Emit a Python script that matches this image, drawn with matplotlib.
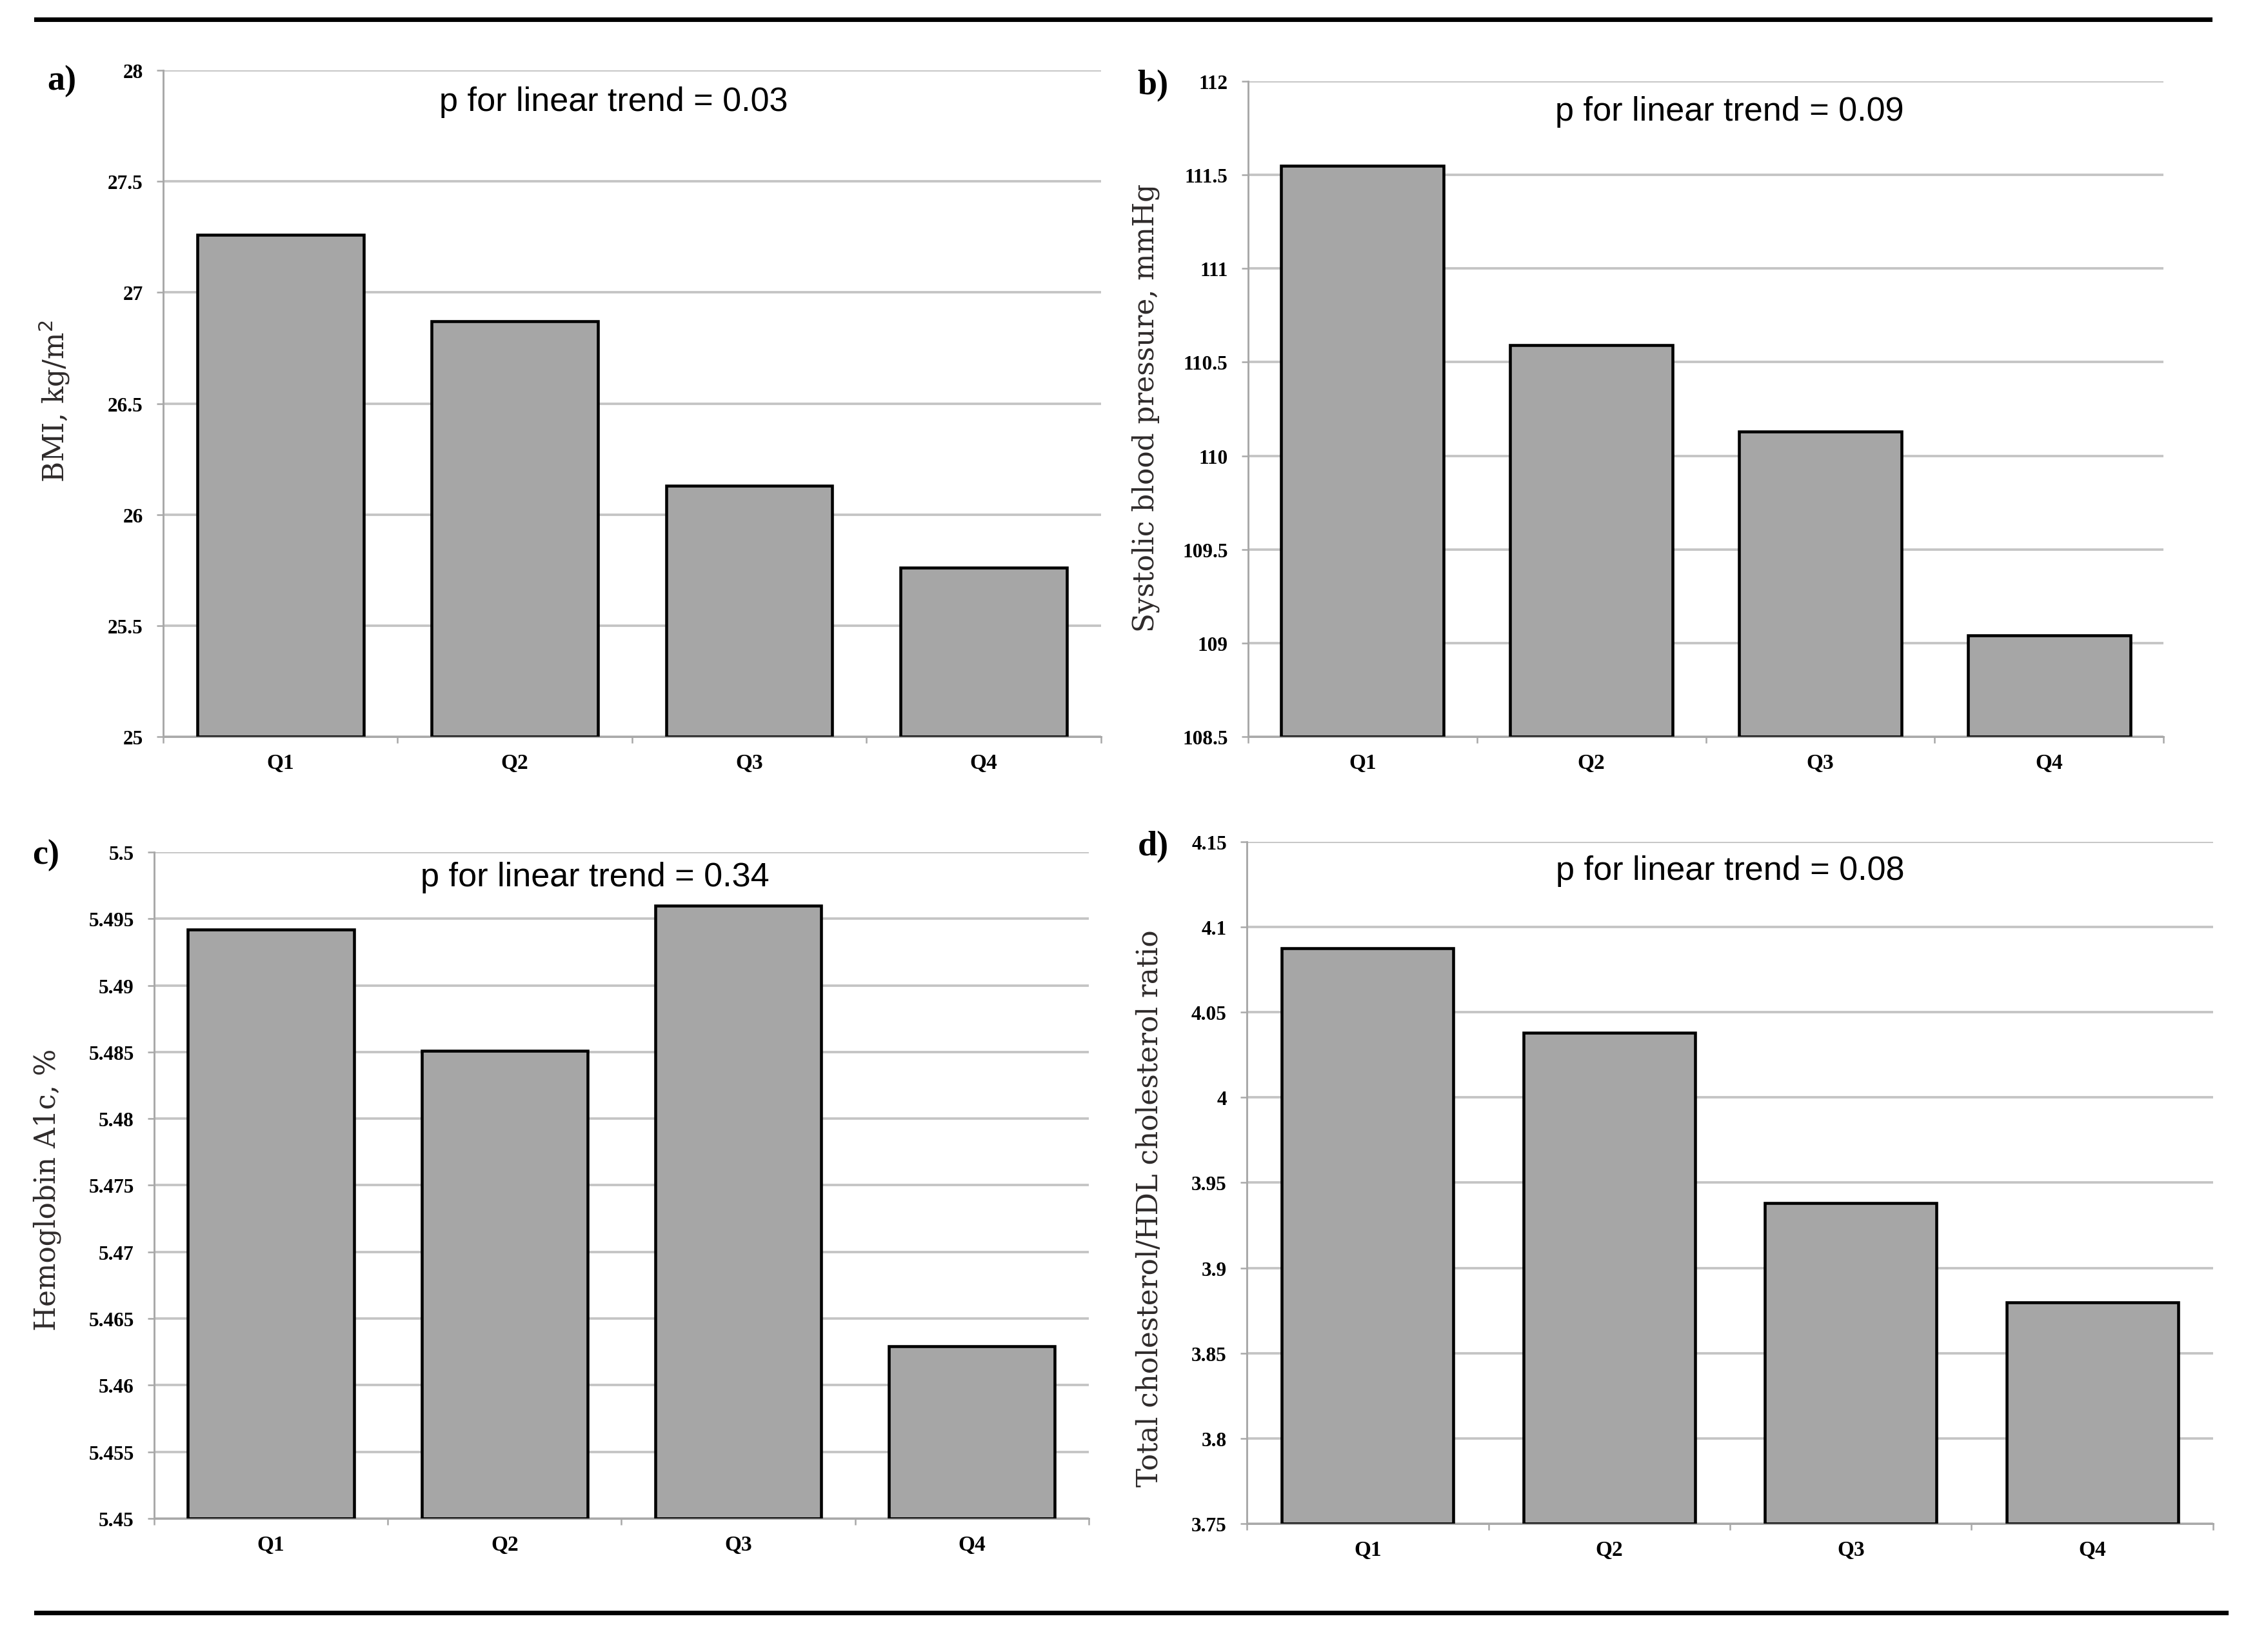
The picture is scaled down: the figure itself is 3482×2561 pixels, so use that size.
import matplotlib
matplotlib.use("Agg")
import matplotlib.pyplot as plt
from matplotlib.lines import Line2D
import numpy as np

quartiles = ["Q1", "Q2", "Q3", "Q4"]

bmi = [27.26, 26.87, 26.13, 25.76]
sbp = [111.55, 110.59, 110.13, 109.04]
hba1c = [5.4942, 5.4851, 5.4960, 5.4629]
chol_ratio = [4.0874, 4.0380, 3.9381, 3.8799]

p_values = ["0.03", "0.09", "0.34", "0.08"]
panel_letters = ["a)", "b)", "c)", "d)"]
y_labels = ["BMI, kg/m$^2$", "Systolic blood pressure, mmHg",
            "Hemoglobin A1c, %", "Total cholesterol/HDL cholesterol ratio"]

bmi_ticks = [25, 25.5, 26, 26.5, 27, 27.5, 28]
sbp_ticks = [108.5, 109, 109.5, 110, 110.5, 111, 111.5, 112]
hba1c_ticks = [5.45, 5.455, 5.46, 5.465, 5.47, 5.475, 5.48, 5.485, 5.49, 5.495, 5.5]
chol_ticks = [3.75, 3.8, 3.85, 3.9, 3.95, 4, 4.05, 4.1, 4.15]

panels = [
    (bmi, bmi_ticks, [0.0727, 0.5539, 0.4174, 0.4031], (0.48, 0.953), (0.0274, 0.9506), (0.0242, 0.757)),
    (sbp, sbp_ticks, [0.5557, 0.5539, 0.4076, 0.3965], (0.526, 0.954), (0.5134, 0.948), (0.510, 0.753)),
    (hba1c, hba1c_ticks, [0.0686, 0.0808, 0.4161, 0.4032], (0.472, 0.963), (0.0204, 0.4822), (0.021, 0.280)),
    (chol_ratio, chol_ticks, [0.5552, 0.0776, 0.4301, 0.4128], (0.50, 0.958), (0.5134, 0.4874), (0.512, 0.269)),
]

fig = plt.figure(figsize=(3482 / 300, 2562 / 300), dpi=300)

x = np.arange(len(quartiles))
for i, (vals, ticks, pos, ptxt, letter_pos, ylab_pos) in enumerate(panels):
    ax = fig.add_axes(pos)
    ax.set_axisbelow(True)
    ax.bar(x, np.array(vals) - ticks[0], bottom=ticks[0], width=0.71,
           color="#a6a6a6", edgecolor="black", linewidth=1.1, zorder=3)
    ax.set_xlim(-0.5, 3.5)
    ax.set_ylim(ticks[0], ticks[-1])
    ax.set_yticks(ticks)
    ax.set_yticklabels([f"{t:g}" for t in ticks], fontfamily="Liberation Serif",
                       fontweight="bold", fontsize=7.5)
    ax.set_xticks(x)
    ax.set_xticklabels(quartiles, fontfamily="Liberation Serif",
                       fontweight="bold", fontsize=8)
    ax.set_xticks(np.arange(-0.5, 4.0, 1.0), minor=True)
    ax.tick_params(axis="x", which="major", length=0, pad=6)
    ax.tick_params(axis="x", which="minor", length=2.5, color="#a8a8a8", width=0.6)
    ax.tick_params(axis="y", length=2.5, color="#a8a8a8", width=0.6, pad=5)
    ax.grid(axis="y", color="#c4c4c4", linewidth=0.9)
    for side in ["top", "right"]:
        ax.spines[side].set_visible(False)
    for side in ["left", "bottom"]:
        ax.spines[side].set_color("#a8a8a8")
        ax.spines[side].set_linewidth(0.7)

    ax.text(ptxt[0], ptxt[1], "p for linear trend = " + p_values[i],
            transform=ax.transAxes, ha="center", va="center", fontsize=12.5,
            fontfamily="Liberation Sans")

    fig.text(letter_pos[0], letter_pos[1], panel_letters[i], ha="center", va="center",
             fontsize=13, fontweight="bold", fontfamily="Liberation Serif")
    fig.text(ylab_pos[0], ylab_pos[1], y_labels[i], rotation=90, ha="center", va="center",
             fontsize=10.5, fontfamily="DejaVu Serif", color="#2e2a2a")

# horizontal rules above and below the figure
fig.add_artist(Line2D([0.016, 0.984], [0.988, 0.988], color="black", linewidth=1.7,
                      transform=fig.transFigure))
fig.add_artist(Line2D([0.016, 0.991], [0.024, 0.024], color="black", linewidth=1.7,
                      transform=fig.transFigure))

fig.savefig("out.png", dpi=300, facecolor="white")
